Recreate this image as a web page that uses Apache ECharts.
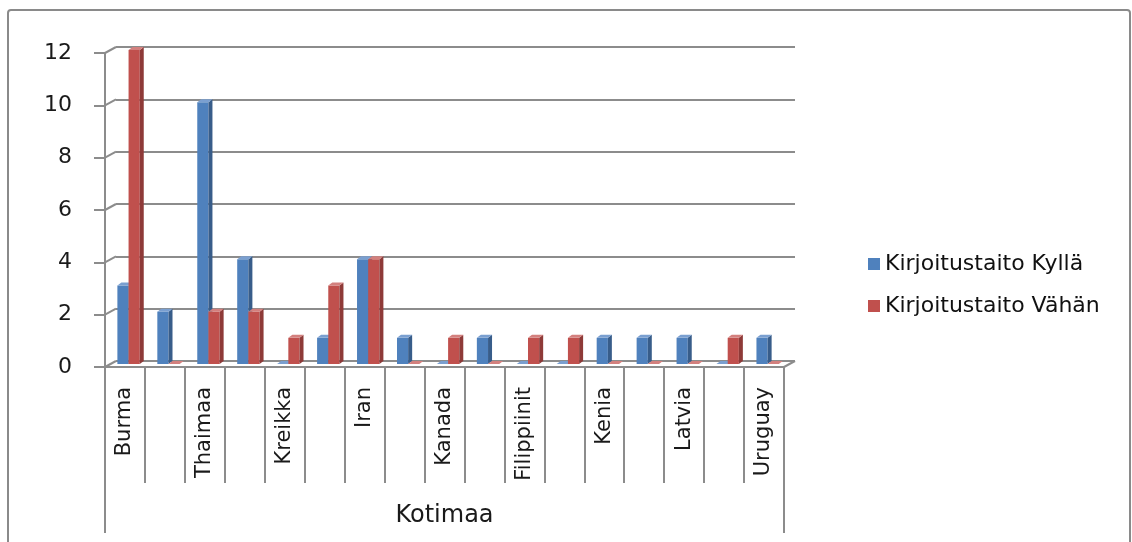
<!DOCTYPE html>
<html>
<head>
<meta charset="utf-8">
<script src="https://cdn.jsdelivr.net/npm/echarts@6/dist/echarts.min.js"></script>
<style>
  html, body { margin: 0; padding: 0; background: #ffffff; }
  #chart { width: 1132px; height: 542px; }
</style>
</head>
<body>
<div id="chart"></div>
<script>
// Home countries (every second label is left blank on the axis)
const categories = ['Burma', '', 'Thaimaa', '', 'Kreikka', '', 'Iran', '', 'Kanada', '',
  'Filippiinit', '', 'Kenia', '', 'Latvia', '', 'Uruguay'];
// Writing skill: yes
const kylla = [3, 2, 10, 4, 0, 1, 4, 1, 0, 1, 0, 0, 1, 1, 1, 0, 1];
// Writing skill: a little
const vahan = [12, 0, 2, 2, 1, 3, 4, 0, 1, 0, 1, 1, 0, 0, 0, 1, 0];
// Value axis ticks
const yTicks = [0, 2, 4, 6, 8, 10, 12];
const seriesNames = ['Kirjoitustaito Kyllä', 'Kirjoitustaito Vähän'];
const axisTitle = 'Kotimaa';

const FONT = 'DejaVu Sans';
const GRID_LINE = '#8c8c8c';
const DEPTH = { x: 11, y: 6 };      // offset of the back wall
const BAR_SHIFT = 3;                // columns stand half way into the floor
const BAR_DEPTH = { x: 4, y: 3 };   // thickness of each column

const palette = [
  { front: '#4F81BD', side: '#385D8A', top: '#7A9FD0' },
  { front: '#C0504D', side: '#8E3A38', top: '#D3807E' }
];

// Column with a front face, a darker right side and a lighter top
function makeBarRenderer(slot) {
  return function (params, api) {
    const idx = api.value(0);
    const val = api.value(1);
    const cw = api.size([1, 0])[0];
    const topPt = api.coord([idx, val]);
    const basePt = api.coord([idx, 0]);
    const w = cw * 0.28;
    const x0 = topPt[0] - cw * 0.19 + slot * w;
    const x1 = x0 + w;
    const yt = topPt[1] - BAR_SHIFT;
    const yb = basePt[1] - BAR_SHIFT;
    const c = palette[slot];
    const dx = BAR_DEPTH.x, dy = BAR_DEPTH.y;
    const children = [];
    if (yb - yt > 0.5) {
      children.push({
        type: 'rect',
        shape: { x: x0, y: yt, width: w, height: yb - yt },
        style: { fill: c.front }
      });
      children.push({
        type: 'polygon',
        shape: { points: [[x1, yt], [x1 + dx, yt - dy], [x1 + dx, yb - dy], [x1, yb]] },
        style: { fill: c.side }
      });
    }
    children.push({
      type: 'polygon',
      shape: { points: [[x0, yt], [x0 + dx, yt - dy], [x1 + dx, yt - dy], [x1, yt]] },
      style: { fill: c.top }
    });
    return { type: 'group', children: children };
  };
}

// Diagonal joins between the front axis and the back wall, plus the label box edges
function renderFrame(params, api) {
  const t = api.value(1);
  const p = api.coord([0, t]);
  const cs = params.coordSys;
  const x = cs.x;
  const style = { stroke: GRID_LINE, lineWidth: 2 };
  const children = [{
    type: 'line',
    shape: { x1: x, y1: p[1], x2: x + DEPTH.x, y2: p[1] - DEPTH.y },
    style: style
  }];
  if (params.dataIndex === 0) {
    const xr = cs.x + cs.width;
    children.push({
      type: 'line',
      shape: { x1: xr, y1: p[1], x2: xr + DEPTH.x, y2: p[1] - DEPTH.y },
      style: style
    });
    children.push({
      type: 'line',
      shape: { x1: x, y1: p[1], x2: x, y2: p[1] + 166 },
      style: style
    });
    children.push({
      type: 'line',
      shape: { x1: xr, y1: p[1], x2: xr, y2: p[1] + 166 },
      style: style
    });
  }
  return { type: 'group', children: children };
}

const chart = echarts.init(document.getElementById('chart'));

chart.setOption({
  animation: false,
  backgroundColor: '#ffffff',
  color: [palette[0].front, palette[1].front],
  textStyle: { fontFamily: FONT },
  graphic: [{
    type: 'rect',
    shape: { x: 8, y: 10, width: 1122, height: 560, r: 3 },
    style: { fill: 'none', stroke: '#8a8a8a', lineWidth: 2 },
    silent: true,
    z: 0
  }],
  legend: {
    data: seriesNames,
    orient: 'vertical',
    left: 863,
    top: 248,
    icon: 'rect',
    itemWidth: 12,
    itemHeight: 12,
    itemGap: 20,
    textStyle: { fontFamily: FONT, fontSize: 22, color: '#111', lineHeight: 22 }
  },
  grid: [
    { left: 105, top: 53, width: 679, height: 314 },
    { left: 105 + DEPTH.x, top: 53 - DEPTH.y, width: 679, height: 314 }
  ],
  xAxis: [{
    type: 'category',
    gridIndex: 0,
    data: categories,
    boundaryGap: true,
    axisLine: { show: true, lineStyle: { color: GRID_LINE, width: 2 } },
    axisTick: { show: true, interval: 0, length: 116, lineStyle: { color: GRID_LINE, width: 2 } },
    axisLabel: { interval: 0, rotate: 90, margin: 20, fontFamily: FONT, fontSize: 21, color: '#1a1a1a' },
    name: axisTitle,
    nameLocation: 'middle',
    nameGap: 137,
    nameTextStyle: { fontFamily: FONT, fontSize: 24, color: '#1a1a1a' },
    z: 3
  }, {
    type: 'category',
    gridIndex: 1,
    data: categories,
    show: false
  }],
  yAxis: [{
    type: 'value',
    gridIndex: 0,
    min: 0,
    max: 12,
    interval: 2,
    axisLine: { show: true, lineStyle: { color: GRID_LINE, width: 2 } },
    axisTick: { show: true, inside: false, length: 11, lineStyle: { color: GRID_LINE, width: 2 } },
    axisLabel: { margin: 33, fontFamily: FONT, fontSize: 22, color: '#1a1a1a' },
    splitLine: { show: false }
  }, {
    type: 'value',
    gridIndex: 1,
    min: 0,
    max: 12,
    interval: 2,
    axisLine: { show: false },
    axisTick: { show: false },
    axisLabel: { show: false },
    splitLine: { show: true, lineStyle: { color: GRID_LINE, width: 2 } }
  }],
  series: [{
    name: seriesNames[0],
    type: 'custom',
    xAxisIndex: 0,
    yAxisIndex: 0,
    itemStyle: { color: palette[0].front },
    renderItem: makeBarRenderer(0),
    encode: { x: 0, y: 1 },
    data: kylla.map((v, i) => [i, v]),
    z: 4
  }, {
    name: seriesNames[1],
    type: 'custom',
    xAxisIndex: 0,
    yAxisIndex: 0,
    itemStyle: { color: palette[1].front },
    renderItem: makeBarRenderer(1),
    encode: { x: 0, y: 1 },
    data: vahan.map((v, i) => [i, v]),
    z: 5
  }, {
    name: 'frame',
    type: 'custom',
    xAxisIndex: 0,
    yAxisIndex: 0,
    silent: true,
    renderItem: renderFrame,
    encode: { x: 0, y: 1 },
    data: yTicks.map(t => [0, t]),
    z: 2
  }]
});
</script>
</body>
</html>
